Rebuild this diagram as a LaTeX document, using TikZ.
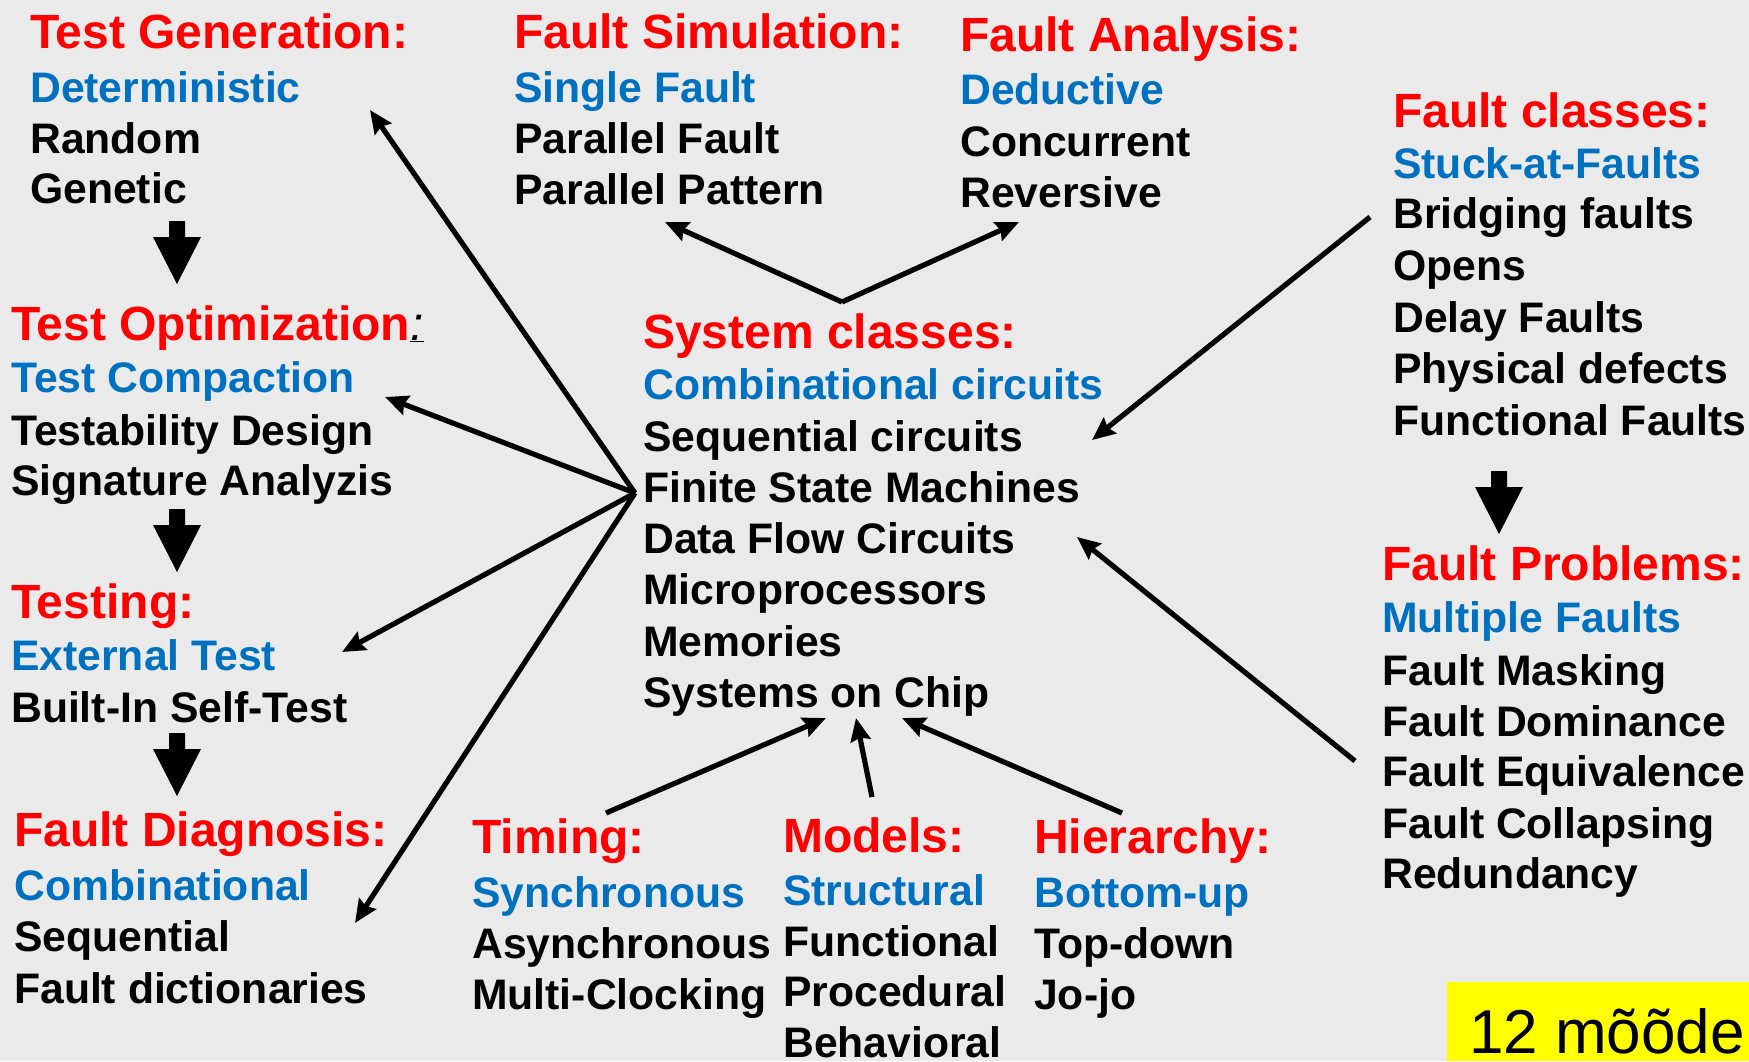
\documentclass[tikz,border=0pt]{standalone}
\usepackage{fontspec}
\setmainfont{Liberation Sans}
\usetikzlibrary{arrows.meta}
\definecolor{bg}{HTML}{EAEAEA}
\definecolor{tred}{HTML}{FF0000}
\definecolor{tblue}{HTML}{0070C0}
\definecolor{hilite}{HTML}{FFFF00}
\tikzset{
  head/.style={anchor=base west, inner sep=0pt, text=tred, font=\fontsize{48}{52}\selectfont\bfseries},
  sub/.style={anchor=base west, inner sep=0pt, text=tblue, font=\fontsize{42.7}{50}\selectfont\bfseries},
  item/.style={anchor=base west, inner sep=0pt, text=black, font=\fontsize{42.7}{50}\selectfont\bfseries},
  conn/.style={line width=5.2pt, draw=black, -{Stealth[length=23pt,width=20pt,inset=3pt]}},
  pics/bigdown/.style={code={\fill[black] (-8,0) -- (8,0) -- (8,16) -- (24,16) -- (0,63) -- (-24,16) -- (-8,16) -- cycle;}}
}
\begin{document}
\begin{tikzpicture}[x=1pt,y=-1pt]
\fill[bg] (0,0) rectangle (1749,1061);
\useasboundingbox (0,0) rectangle (1749,1061);

% Test Generation
\node[head] (tg0) at (30,48) {Test Generation:};
\node[sub]  (tg1) at (30,102) {Deterministic};
\node[item] (tg2) at (30,153) {Random};
\node[item] (tg3) at (30,203) {Genetic};
\pic at (177,221) {bigdown};

% Test Optimization
\node[head] (to0) at (11,340) {Test Optimization\textcolor{black}{\underline{\mdseries\itshape :}}};
\node[sub]  (to1) at (11,392) {Test Compaction};
\node[item] (to2) at (11,445) {Testability Design};
\node[item] (to3) at (11,495) {Signature Analyzis};
\pic at (177,509) {bigdown};

% Testing
\node[head] (te0) at (11,618) {Testing:};
\node[sub]  (te1) at (11,670) {External Test};
\node[item] (te2) at (11,722) {Built-In Self-Test};
\pic at (177,733) {bigdown};

% Fault Diagnosis
\node[head] (fd0) at (14,846) {Fault Diagnosis:};
\node[sub]  (fd1) at (14,900) {Combinational};
\node[item] (fd2) at (14,951) {Sequential};
\node[item] (fd3) at (14,1003) {Fault dictionaries};

% Fault Simulation
\node[head] (fs0) at (514,48) {Fault Simulation:};
\node[sub]  (fs1) at (514,102) {Single Fault};
\node[item] (fs2) at (514,153) {Parallel Fault};
\node[item] (fs3) at (514,204) {Parallel Pattern};

% Fault Analysis
\node[head] (fa0) at (960,51) {Fault Analysis:};
\node[sub]  (fa1) at (960,104) {Deductive};
\node[item] (fa2) at (960,156) {Concurrent};
\node[item] (fa3) at (960,207) {Reversive};

% Fault classes
\node[head] (fc0) at (1393,127) {Fault classes:};
\node[sub]  (fc1) at (1393,178) {Stuck-at-Faults};
\node[item] (fc2) at (1393,228) {Bridging faults};
\node[item] (fc3) at (1393,280) {Opens};
\node[item] (fc4) at (1393,332) {Delay Faults};
\node[item] (fc5) at (1393,383) {Physical defects};
\node[item] (fc6) at (1393,435) {Functional Faults};
\pic at (1499,471) {bigdown};

% Fault Problems
\node[head] (fp0) at (1382,580) {Fault Problems:};
\node[sub]  (fp1) at (1382,632) {Multiple Faults};
\node[item] (fp2) at (1382,685) {Fault Masking};
\node[item] (fp3) at (1382,736) {Fault Dominance};
\node[item] (fp4) at (1382,786) {Fault Equivalence};
\node[item] (fp5) at (1382,838) {Fault Collapsing};
\node[item] (fp6) at (1382,888) {Redundancy};

% System classes
\node[head] (sc0) at (643,348) {System classes:};
\node[sub]  (sc1) at (643,399) {Combinational circuits};
\node[item] (sc2) at (643,451) {Sequential circuits};
\node[item] (sc3) at (643,502) {Finite State Machines};
\node[item] (sc4) at (643,553) {Data Flow Circuits};
\node[item] (sc5) at (643,604) {Microprocessors};
\node[item] (sc6) at (643,656) {Memories};
\node[item] (sc7) at (643,707) {Systems on Chip};

% Timing
\node[head] (ti0) at (472,853) {Timing:};
\node[sub]  (ti1) at (472,907) {Synchronous};
\node[item] (ti2) at (472,958) {Asynchronous};
\node[item] (ti3) at (472,1009) {Multi-Clocking};

% Models
\node[head] (mo0) at (783,852) {Models:};
\node[sub]  (mo1) at (783,905) {Structural};
\node[item] (mo2) at (783,956) {Functional};
\node[item] (mo3) at (783,1006) {Procedural};
\node[item] (mo4) at (783,1057) {Behavioral};

% Hierarchy
\node[head] (hi0) at (1034,853) {Hierarchy:};
\node[sub]  (hi1) at (1034,907) {Bottom-up};
\node[item] (hi2) at (1034,958) {Top-down};
\node[item] (hi3) at (1034,1009) {Jo-jo};

% yellow label
\fill[hilite] (1447,982) rectangle (1749,1061);
\node[anchor=base west, inner sep=0pt, font=\fontsize{62}{70}\selectfont] (dims) at (1469,1053) {12 mõõde};

% connector end points
\coordinate (hub) at (635,493);
\coordinate (tgT) at (370,110);
\coordinate (toT) at (385,397);
\coordinate (teT) at (342,652);
\coordinate (fdT) at (355,923);
\coordinate (vtx) at (842,302);
\coordinate (fsT) at (665,222);
\coordinate (faT) at (1019,222);
\coordinate (fcS) at (1370,217);
\coordinate (fcT) at (1092,440);
\coordinate (fpS) at (1355,761);
\coordinate (fpT) at (1077,537);
\coordinate (tiS) at (606,813);
\coordinate (tiT) at (826,718);
\coordinate (moS) at (872,797);
\coordinate (moT) at (856,718);
\coordinate (hiS) at (1122,813);
\coordinate (hiT) at (902,718);

\draw[conn] (hub) -- (tgT);
\draw[conn] (hub) -- (toT);
\draw[conn] (hub) -- (teT);
\draw[conn] (hub) -- (fdT);
\draw[conn] (vtx) -- (fsT);
\draw[conn] (vtx) -- (faT);
\draw[conn] (fcS) -- (fcT);
\draw[conn] (fpS) -- (fpT);
\draw[conn] (tiS) -- (tiT);
\draw[conn] (moS) -- (moT);
\draw[conn] (hiS) -- (hiT);
\end{tikzpicture}
\end{document}
